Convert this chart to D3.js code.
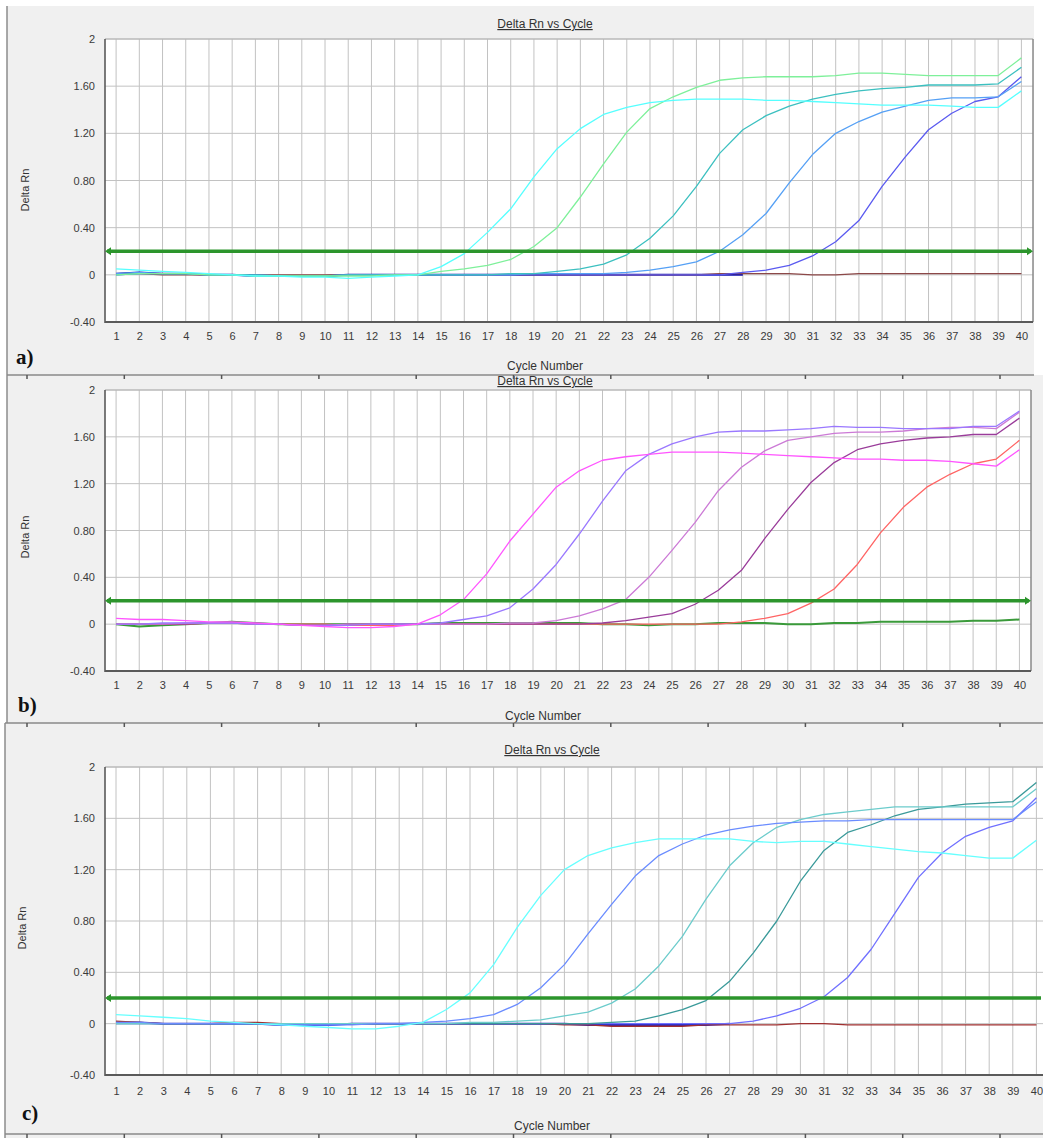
<!DOCTYPE html>
<html>
<head>
<meta charset="utf-8">
<script src="https://cdn.jsdelivr.net/npm/d3@7"></script>
<style>
  html, body { margin: 0; padding: 0; background: #ffffff; }
  svg { display: block; }
  text { font-family: "Liberation Sans", Arial, sans-serif; }
</style>
</head>
<body>
<script>
// ---------------- DATA ----------------
const cycles = [1,2,3,4,5,6,7,8,9,10,11,12,13,14,15,16,17,18,19,20,21,22,23,24,25,26,27,28,29,30,31,32,33,34,35,36,37,38,39,40];
const yTicks = [-0.4, 0, 0.4, 0.8, 1.2, 1.6, 2];
const yTickLabels = ["-0.40", "0", "0.40", "0.80", "1.20", "1.60", "2"];
const yDomain = [-0.4, 2];
const threshold = 0.2;
const chartTitle = "Delta Rn vs Cycle";
const xTitle = "Cycle Number";
const yTitle = "Delta Rn";
const panelTags = ["a)", "b)", "c)"];

// Panel a
const aBrown = [0.01,0.01,0.00,0.00,0.00,0.00,0.00,0.00,0.00,0.00,0.00,0.00,0.00,0.00,0.00,0.00,0.00,0.00,0.00,0.00,0.00,0.00,0.00,0.00,0.00,0.00,0.01,0.01,0.01,0.01,0.00,0.00,0.01,0.01,0.01,0.01,0.01,0.01,0.01,0.01];
const aNavy = [0.01,0.02,0.01,0.01,0.00,0.00,-0.01,-0.01,-0.01,-0.01,0.00,0.00,0.00,0.00,0.00,0.00,0.00,0.00,0.00,0.00,0.00,0.00,0.00,0.00,0.00,0.00,0.00,0.00];
const aSlate = [0.00,0.01,0.01,0.01,0.00,0.00,0.00,-0.01,-0.01,-0.01,0.00,0.00,0.00,0.00,0.00,0.00,0.00,0.00,0.00,0.00,0.00,0.00,0.00,0.00,0.00,0.00,0.00,0.02,0.04,0.08,0.16,0.28,0.46,0.75,1.00,1.23,1.37,1.47,1.51,1.68];
const aLightBlue = [0.01,0.02,0.01,0.01,0.00,0.00,-0.01,-0.01,-0.01,-0.01,0.00,0.00,0.00,0.00,0.00,0.00,0.00,0.00,0.01,0.01,0.01,0.01,0.02,0.04,0.07,0.11,0.20,0.34,0.52,0.78,1.02,1.20,1.30,1.38,1.43,1.48,1.50,1.50,1.51,1.64];
const aTeal = [0.00,0.01,0.01,0.01,0.00,0.00,0.00,-0.01,-0.01,-0.01,0.00,0.00,0.00,0.00,0.00,0.00,0.00,0.01,0.01,0.03,0.05,0.09,0.17,0.31,0.50,0.75,1.03,1.23,1.35,1.43,1.49,1.53,1.56,1.58,1.59,1.61,1.61,1.61,1.62,1.76];
const aGreen = [0.00,0.01,0.01,0.01,0.00,0.00,-0.01,-0.01,-0.01,-0.01,-0.01,-0.01,0.00,0.00,0.03,0.05,0.08,0.13,0.24,0.40,0.66,0.94,1.21,1.41,1.51,1.59,1.65,1.67,1.68,1.68,1.68,1.69,1.71,1.71,1.70,1.69,1.69,1.69,1.69,1.84];
const aCyan = [0.05,0.04,0.03,0.02,0.01,0.00,-0.01,-0.01,-0.02,-0.02,-0.03,-0.02,-0.01,0.00,0.07,0.18,0.36,0.56,0.83,1.07,1.24,1.36,1.42,1.46,1.48,1.49,1.49,1.49,1.48,1.48,1.47,1.46,1.45,1.44,1.44,1.44,1.43,1.42,1.42,1.56];
const aSeries = [aNavy, aBrown, aSlate, aLightBlue, aTeal, aGreen, aCyan];
const aColors = ["#1414b4", "#8c4848", "#5a5af0", "#55a0f5", "#3cc0c0", "#7ef09a", "#55ffff"];

// Panel b
const bGreen = [0.00,-0.02,-0.01,0.00,0.01,0.02,0.01,0.00,0.00,0.00,0.00,0.00,0.00,0.00,0.01,0.01,0.01,0.01,0.01,0.01,0.01,0.00,0.00,-0.01,0.00,0.00,0.01,0.01,0.01,0.00,0.00,0.01,0.01,0.02,0.02,0.02,0.02,0.03,0.03,0.04];
const bSalmon = [0.00,0.00,0.00,0.00,0.01,0.01,0.00,0.00,0.00,0.00,-0.01,-0.01,-0.01,0.00,0.00,0.00,0.00,0.00,0.00,0.00,0.00,0.00,0.00,0.00,0.00,0.00,0.00,0.02,0.05,0.09,0.18,0.30,0.51,0.78,1.00,1.17,1.28,1.37,1.41,1.57];
const bPurple = [0.00,0.00,0.00,0.00,0.01,0.01,0.00,0.00,-0.01,-0.01,0.00,0.00,0.00,0.00,0.00,0.00,0.00,0.00,0.00,0.00,0.00,0.01,0.03,0.06,0.09,0.17,0.29,0.46,0.73,0.98,1.21,1.38,1.49,1.54,1.57,1.59,1.60,1.62,1.62,1.76];
const bOrchid = [0.00,0.00,0.00,0.01,0.01,0.01,0.00,0.00,-0.01,-0.01,0.00,0.00,0.00,0.00,0.00,0.00,0.00,0.01,0.01,0.03,0.07,0.13,0.21,0.40,0.63,0.87,1.14,1.34,1.48,1.57,1.60,1.63,1.64,1.64,1.65,1.67,1.68,1.68,1.67,1.81];
const bViolet = [0.00,0.00,0.01,0.01,0.01,0.01,0.00,0.00,-0.01,-0.01,-0.01,0.00,0.00,0.00,0.01,0.04,0.07,0.14,0.30,0.51,0.77,1.05,1.31,1.45,1.54,1.60,1.64,1.65,1.65,1.66,1.67,1.69,1.68,1.68,1.67,1.67,1.67,1.69,1.69,1.82];
const bMagenta = [0.05,0.04,0.04,0.03,0.02,0.02,0.01,0.00,-0.01,-0.02,-0.03,-0.03,-0.02,0.00,0.08,0.21,0.43,0.71,0.94,1.17,1.31,1.40,1.43,1.45,1.47,1.47,1.47,1.46,1.45,1.44,1.43,1.42,1.41,1.41,1.40,1.40,1.39,1.37,1.35,1.49];
const bSeries = [bGreen, bSalmon, bPurple, bOrchid, bViolet, bMagenta];
const bColors = ["#3a9a3a", "#ff6464", "#9a3c9a", "#cc7ad6", "#9a78ff", "#ff55ff"];

// Panel c
const cRed = [0.02,0.01,0.00,0.00,0.00,0.01,0.01,0.00,0.00,0.00,0.00,0.00,0.00,0.00,0.00,0.00,0.00,0.00,0.00,-0.01,-0.01,-0.02,-0.02,-0.02,-0.02,-0.01,-0.01,-0.01,-0.01,0.00,0.00,-0.01,-0.01,-0.01,-0.01,-0.01,-0.01,-0.01,-0.01,-0.01];
const cNavy = [0.01,0.01,0.00,0.00,0.00,0.00,0.00,-0.01,-0.01,-0.01,0.00,0.00,0.00,0.00,0.00,0.00,0.00,0.00,0.00,0.00,-0.01,-0.01,-0.01,-0.01,-0.01,-0.01,0.00];
const cSlate = [0.00,0.00,0.00,0.00,0.00,0.00,0.00,-0.01,-0.01,-0.01,0.00,0.00,0.00,0.00,0.00,0.00,0.00,0.00,0.00,0.00,0.00,0.00,0.00,0.00,0.00,0.00,0.00,0.02,0.06,0.12,0.21,0.36,0.58,0.86,1.14,1.33,1.46,1.53,1.58,1.76];
const cTeal = [0.00,0.00,0.00,0.00,0.00,0.00,0.00,0.00,0.00,0.00,0.00,0.00,0.00,0.00,0.00,0.00,0.00,0.00,0.00,0.00,0.00,0.01,0.02,0.06,0.11,0.18,0.33,0.55,0.80,1.11,1.35,1.49,1.55,1.62,1.67,1.69,1.71,1.72,1.73,1.88];
const cAqua = [0.00,0.00,0.00,0.00,0.00,0.00,0.00,0.00,0.00,0.00,0.00,0.00,0.00,0.00,0.00,0.01,0.01,0.02,0.03,0.06,0.09,0.16,0.27,0.45,0.68,0.97,1.23,1.41,1.53,1.59,1.63,1.65,1.67,1.69,1.69,1.69,1.69,1.69,1.69,1.83];
const cCorn = [0.01,0.01,0.00,0.00,0.00,0.00,0.00,-0.01,-0.01,-0.01,-0.01,0.00,0.00,0.01,0.02,0.04,0.07,0.15,0.28,0.46,0.70,0.93,1.15,1.31,1.40,1.47,1.51,1.54,1.56,1.57,1.58,1.58,1.59,1.59,1.59,1.59,1.59,1.59,1.59,1.73];
const cCyan = [0.07,0.06,0.05,0.04,0.02,0.01,0.00,-0.01,-0.02,-0.03,-0.04,-0.04,-0.02,0.01,0.11,0.24,0.46,0.75,1.00,1.20,1.31,1.37,1.41,1.44,1.44,1.44,1.44,1.42,1.41,1.42,1.42,1.40,1.38,1.36,1.34,1.33,1.31,1.29,1.29,1.43];
const cSeries = [cNavy, cRed, cSlate, cTeal, cAqua, cCorn, cCyan];
const cColors = ["#2020c0", "#a03030", "#7070ff", "#3a9a9a", "#6ccccc", "#6a8cff", "#66ffff"];

// ---------------- LAYOUT ----------------
const W = 1043, H = 1138;
const panels = [
  { bg: [7, 6, 1027, 369], plot: { left: 105, right: 1033, top: 39, bottom: 322 }, xRange: [104.5, 1033],
    title: { x: 545, y: 28, clipTop: 0 }, xlab: { x: 545, y: 370 }, ylab: { x: 29, y: 190 }, tag: { x: 16, y: 364 },
    series: aSeries, colors: aColors, pad: 10 },
  { bg: [7, 375, 1036, 348], plot: { left: 105, right: 1031, top: 390, bottom: 671 }, xRange: [104.5, 1031],
    title: { x: 545, y: 385, clipTop: 376 }, xlab: { x: 543, y: 720 }, ylab: { x: 29, y: 537 }, tag: { x: 18, y: 712 },
    series: bSeries, colors: bColors, pad: 10 },
  { bg: [5, 723, 1038, 415], plot: { left: 105, right: 1049, top: 767, bottom: 1075 }, xRange: [104.2, 1048.2],
    title: { x: 552, y: 754, clipTop: 0 }, xlab: { x: 552, y: 1130 }, ylab: { x: 26, y: 928 }, tag: { x: 22, y: 1120 },
    series: cSeries, colors: cColors, pad: 12 }
];

const svg = d3.select("body").append("svg").attr("width", W).attr("height", H);
const defs = svg.append("defs");

panels.forEach((p, pi) => {
  const g = svg.append("g");
  g.append("rect").attr("x", p.bg[0]).attr("y", p.bg[1]).attr("width", p.bg[2]).attr("height", p.bg[3]).attr("fill", "#f0f0f0");
  g.append("line").attr("x1", p.bg[0]).attr("x2", p.bg[0]).attr("y1", p.bg[1]).attr("y2", p.bg[1] + p.bg[3])
    .attr("stroke", "#8c8c8c").attr("stroke-width", 1.5);

  const x = d3.scaleLinear().domain([0.5, 40.5]).range(p.xRange);
  const y = d3.scaleLinear().domain(yDomain).range([p.plot.bottom, p.plot.top]);
  const L = p.plot.left, R = p.plot.right, T = p.plot.top, B = p.plot.bottom;

  g.append("rect").attr("x", L).attr("y", T).attr("width", R - L).attr("height", B - T).attr("fill", "#ffffff");

  g.append("g").selectAll("line").data(cycles).join("line")
    .attr("x1", d => x(d)).attr("x2", d => x(d)).attr("y1", T).attr("y2", B)
    .attr("stroke", "#c2c2c2").attr("stroke-width", 1);
  g.append("g").selectAll("line").data(yTicks.slice(1)).join("line")
    .attr("x1", L).attr("x2", R).attr("y1", d => y(d)).attr("y2", d => y(d))
    .attr("stroke", "#c2c2c2").attr("stroke-width", 1);
  g.append("line").attr("x1", L).attr("x2", R).attr("y1", T).attr("y2", T).attr("stroke", "#b4b4b4");
  g.append("line").attr("x1", R).attr("x2", R).attr("y1", T).attr("y2", B).attr("stroke", "#8a8a8a").attr("stroke-width", 1.5);

  const yAxis = d3.axisLeft(y).tickValues(yTicks).tickFormat((d, i) => yTickLabels[i]).tickSize(0).tickPadding(10);
  const ya = g.append("g").attr("transform", `translate(${L},0)`).call(yAxis);
  ya.select(".domain").remove();
  ya.selectAll("text").attr("font-size", 11).attr("fill", "#3a3a3a").attr("font-family", "Liberation Sans, Arial, sans-serif");

  const xAxis = d3.axisBottom(x).tickValues(cycles).tickFormat(d => d).tickSize(0).tickPadding(p.pad);
  const xa = g.append("g").attr("transform", `translate(0,${B})`).call(xAxis);
  xa.select(".domain").remove();
  xa.selectAll("text").attr("font-size", 11).attr("fill", "#3a3a3a").attr("font-family", "Liberation Sans, Arial, sans-serif");

  g.append("line").attr("x1", L).attr("x2", L).attr("y1", T).attr("y2", B + 1).attr("stroke", "#5a5a5a").attr("stroke-width", 1.6);
  g.append("line").attr("x1", L).attr("x2", R).attr("y1", B).attr("y2", B).attr("stroke", "#5a5a5a").attr("stroke-width", 2);

  const cid = "clip" + pi;
  defs.append("clipPath").attr("id", cid).append("rect").attr("x", L).attr("y", T).attr("width", R - L).attr("height", B - T);
  const sg = g.append("g").attr("clip-path", `url(#${cid})`);

  const line = d3.line().x((d, i) => x(cycles[i])).y(d => y(d));
  p.series.forEach((s, si) => {
    sg.append("path").attr("d", line(s)).attr("fill", "none")
      .attr("stroke", p.colors[si]).attr("stroke-width", si === 0 ? 2 : 1.3)
      .attr("stroke-linejoin", "round");
  });

  const ty = y(threshold);
  const thrColor = "#2c952c";
  g.append("line").attr("x1", L + 2).attr("x2", Math.min(R, W) - 2).attr("y1", ty).attr("y2", ty)
    .attr("stroke", thrColor).attr("stroke-width", 3.5);
  g.append("path").attr("d", `M${L},${ty} L${L + 6},${ty - 4} L${L + 6},${ty + 4} Z`).attr("fill", thrColor);
  if (R <= W) {
    g.append("path").attr("d", `M${R},${ty} L${R - 6},${ty - 4} L${R - 6},${ty + 4} Z`).attr("fill", thrColor);
  }

  let tg = g;
  if (p.title.clipTop) {
    const tid = "tclip" + pi;
    defs.append("clipPath").attr("id", tid).append("rect").attr("x", 0).attr("y", p.title.clipTop).attr("width", W).attr("height", 20);
    tg = g.append("g").attr("clip-path", `url(#${tid})`);
  }
  tg.append("text").attr("x", p.title.x).attr("y", p.title.y).attr("text-anchor", "middle")
    .attr("font-size", 12).attr("fill", "#333").attr("text-decoration", "underline").text(chartTitle);

  g.append("text").attr("transform", `translate(${p.ylab.x},${p.ylab.y}) rotate(-90)`).attr("text-anchor", "middle")
    .attr("font-size", 11).attr("fill", "#333").text(yTitle);

  g.append("text").attr("x", p.tag.x).attr("y", p.tag.y).attr("font-size", 21).attr("font-weight", "bold")
    .style("font-family", "'Liberation Serif', 'Times New Roman', serif")
    .attr("fill", "#111").text(panelTags[pi]);
});

panels.forEach(p => {
  svg.append("text").attr("x", p.xlab.x).attr("y", p.xlab.y).attr("text-anchor", "middle")
    .attr("font-size", 12).attr("fill", "#333").text(xTitle);
});

const seps = [{ y: 375, x1: 7, x2: 1034 }, { y: 723, x1: 5, x2: 1043 }, { y: 1134, x1: 5, x2: 1043 }];
seps.forEach(s => {
  svg.append("line").attr("x1", s.x1).attr("x2", s.x2).attr("y1", s.y).attr("y2", s.y).attr("stroke", "#8a8a8a").attr("stroke-width", 1.5);
  svg.append("g").selectAll("line").data(d3.range(27, 1010, 97.3)).join("line")
    .attr("x1", d => d).attr("x2", d => d).attr("y1", s.y).attr("y2", s.y + 4)
    .attr("stroke", "#555").attr("stroke-width", 1.5);
});
</script>
</body>
</html>
